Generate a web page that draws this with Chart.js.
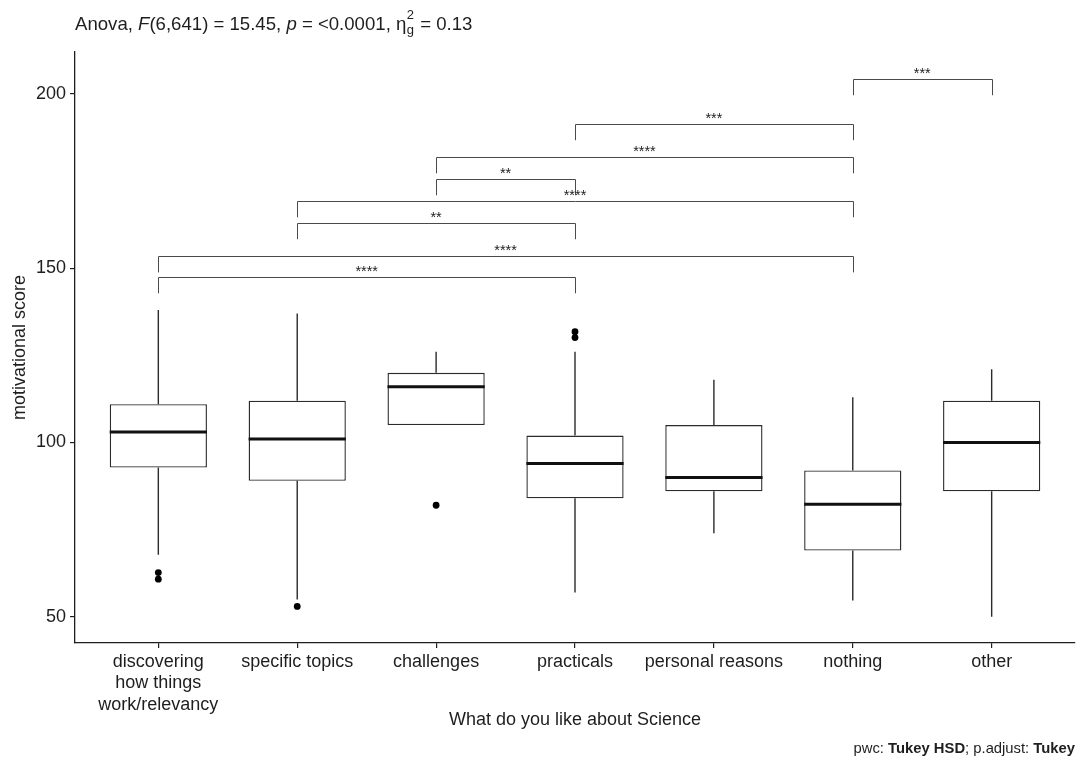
<!DOCTYPE html>
<html>
<head>
<meta charset="utf-8">
<script src="https://cdn.jsdelivr.net/npm/chart.js@4.4.0/dist/chart.umd.min.js"></script>
<style>
    html, body { margin: 0; padding: 0; background: #ffffff; }
    #wrap { width: 1079px; height: 760px; }
</style>
</head>
<body>
<div id="wrap"><canvas id="scienceChart" width="1079" height="760"></canvas></div>
<script>
// Groups on the x axis
const categories = [
    ['discovering', 'how things', 'work/relevancy'],
    'specific topics', 'challenges', 'practicals', 'personal reasons', 'nothing', 'other'
];

// Box statistics per group (motivational score)
const whiskerLow  = [67.8, 55, 105, 57, 74, 54.7, 50];
const q1          = [92.8, 89, 105, 84, 86, 69, 86];
const medians     = [103, 101, 116, 94, 90, 82.3, 100];
const q3          = [111, 112, 120, 102, 105, 92, 112];
const whiskerHigh = [138, 137, 126, 126, 118, 113, 121];

// Outlying points: group number (1-based) and value
const outlierGroup = [1, 1, 2, 3, 4, 4];
const outlierValue = [62.7, 60.8, 53, 82, 131.8, 130.1];

// Pairwise comparisons (Tukey HSD)
const pairStart  = [6, 4, 3, 3, 2, 2, 1, 1];
const pairEnd    = [7, 6, 6, 4, 6, 4, 6, 4];
const pairY      = [204.3, 191.4, 181.9, 175.6, 169.3, 163, 153.5, 147.5];
const pairLabels = ['***', '***', '****', '**', '****', '**', '****', '****'];
const tipLength  = 4.7;

const yTicks = [50, 100, 150, 200];

const FONT = '"Liberation Sans", Arial, Helvetica, sans-serif';
const INK = '#1e1e1e';

// Whiskers, medians and significance brackets
const boxPlugin = {
    id: 'boxExtras',
    afterDatasetsDraw(chart) {
        const ctx = chart.ctx;
        const xs = chart.scales.x;
        const ys = chart.scales.y;
        const half = (xs.getPixelForValue(2) - xs.getPixelForValue(1)) * 0.35;

        ctx.save();
        ctx.strokeStyle = '#2b2b2b';
        ctx.lineCap = 'butt';
        categories.forEach((c, i) => {
            const x = xs.getPixelForValue(i + 1);
            // whiskers
            ctx.lineWidth = 1.4;
            ctx.beginPath();
            ctx.moveTo(x, ys.getPixelForValue(q3[i]));
            ctx.lineTo(x, ys.getPixelForValue(whiskerHigh[i]));
            ctx.moveTo(x, ys.getPixelForValue(q1[i]));
            ctx.lineTo(x, ys.getPixelForValue(whiskerLow[i]));
            ctx.stroke();
            // median
            ctx.lineWidth = 3;
            ctx.strokeStyle = '#111';
            ctx.beginPath();
            ctx.moveTo(x - half, ys.getPixelForValue(medians[i]));
            ctx.lineTo(x + half, ys.getPixelForValue(medians[i]));
            ctx.stroke();
            ctx.strokeStyle = '#2b2b2b';
        });

        // brackets
        ctx.strokeStyle = '#4a4a4a';
        ctx.lineWidth = 1;
        ctx.fillStyle = '#222';
        ctx.font = '14.5px ' + FONT;
        ctx.textAlign = 'center';
        ctx.textBaseline = 'alphabetic';
        pairY.forEach((v, i) => {
            const x1 = xs.getPixelForValue(pairStart[i]);
            const x2 = xs.getPixelForValue(pairEnd[i]);
            const y = Math.round(ys.getPixelForValue(v)) + 0.5;
            const yTip = ys.getPixelForValue(v - tipLength);
            ctx.beginPath();
            ctx.moveTo(Math.round(x1) + 0.5, yTip);
            ctx.lineTo(Math.round(x1) + 0.5, y);
            ctx.lineTo(Math.round(x2) + 0.5, y);
            ctx.lineTo(Math.round(x2) + 0.5, yTip);
            ctx.stroke();
            ctx.fillText(pairLabels[i], (x1 + x2) / 2, y - 1.5);
        });
        ctx.restore();
    },
    afterDraw(chart) {
        const ctx = chart.ctx;
        ctx.save();
        ctx.fillStyle = INK;
        ctx.textAlign = 'left';
        ctx.textBaseline = 'alphabetic';

        // subtitle with the Anova result
        const reg = '18.6px ' + FONT;
        const ita = 'italic 18.6px ' + FONT;
        const small = '13px ' + FONT;
        let x = chart.chartArea.left;
        const y = 30;
        const runs = [
            [reg, 'Anova, '], [ita, 'F'], [reg, '(6,641) = 15.45, '], [ita, 'p'],
            [reg, ' = <0.0001, '], [reg, '\u03B7']
        ];
        runs.forEach(r => {
            ctx.font = r[0];
            ctx.fillText(r[1], x, y);
            x += ctx.measureText(r[1]).width;
        });
        ctx.font = small;
        ctx.fillText('2', x + 0.5, y - 11);
        ctx.fillText('g', x + 0.5, y + 4);
        x += ctx.measureText('g').width + 1.5;
        ctx.font = reg;
        ctx.fillText(' = 0.13', x, y);

        // caption, right aligned
        const capReg = '14.8px ' + FONT;
        const capBold = 'bold 14.8px ' + FONT;
        const cap = [[capReg, 'pwc: '], [capBold, 'Tukey HSD'], [capReg, '; p.adjust: '], [capBold, 'Tukey']];
        let total = 0;
        cap.forEach(r => { ctx.font = r[0]; total += ctx.measureText(r[1]).width; });
        let cx = chart.chartArea.right - total;
        cap.forEach(r => {
            ctx.font = r[0];
            ctx.fillText(r[1], cx, 753);
            cx += ctx.measureText(r[1]).width;
        });
        ctx.restore();
    }
};

const ctx = document.getElementById('scienceChart').getContext('2d');
new Chart(ctx, {
    type: 'bar',
    data: {
        datasets: [{
            type: 'bar',
            label: 'box',
            data: categories.map((c, i) => ({ x: i + 1, y: [q1[i], q3[i]] })),
            backgroundColor: '#ffffff',
            borderColor: '#2b2b2b',
            borderWidth: 1.4,
            borderSkipped: false,
            barPercentage: 0.7,
            categoryPercentage: 1,
            order: 2
        }, {
            type: 'scatter',
            label: 'outliers',
            data: outlierGroup.map((g, i) => ({ x: g, y: outlierValue[i] })),
            backgroundColor: '#000000',
            borderWidth: 0,
            pointRadius: 3.4,
            showLine: false,
            order: 1
        }]
    },
    options: {
        responsive: false,
        animation: false,
        events: [],
        layout: { padding: { top: 52, right: 3, bottom: 0, left: 0 } },
        plugins: {
            legend: { display: false },
            tooltip: { enabled: false }
        },
        scales: {
            x: {
                type: 'linear',
                min: 0.4,
                max: 7.6,
                offset: false,
                afterBuildTicks: scale => { scale.ticks = categories.map((c, i) => ({ value: i + 1 })); },
                afterFit: scale => { scale.height = 117; },
                grid: { display: true, offset: false, drawOnChartArea: false, drawTicks: true, tickLength: 5, color: INK, lineWidth: 1.2 },
                border: { display: true, color: INK, width: 1.3 },
                ticks: {
                    autoSkip: false,
                    maxRotation: 0,
                    padding: 3,
                    color: INK,
                    font: { family: FONT, size: 18 },
                    callback: v => categories[Math.round(v) - 1]
                },
                title: {
                    display: true,
                    text: 'What do you like about Science',
                    color: INK,
                    font: { family: FONT, size: 18 },
                    padding: { top: 0, bottom: 29 }
                }
            },
            y: {
                type: 'linear',
                min: 42.5,
                max: 212,
                beginAtZero: false,
                afterBuildTicks: scale => { scale.ticks = yTicks.map(v => ({ value: v })); },
                afterFit: scale => { scale.width = 75; },
                grid: { display: true, drawOnChartArea: false, drawTicks: true, tickLength: 5, color: INK, lineWidth: 1.2 },
                border: { display: true, color: INK, width: 1.3 },
                ticks: {
                    padding: 4,
                    color: INK,
                    font: { family: FONT, size: 18 }
                },
                title: {
                    display: true,
                    text: 'motivational score',
                    color: INK,
                    font: { family: FONT, size: 18 },
                    padding: { top: 9, bottom: 0 }
                }
            }
        }
    },
    plugins: [boxPlugin]
});
</script>
</body>
</html>
